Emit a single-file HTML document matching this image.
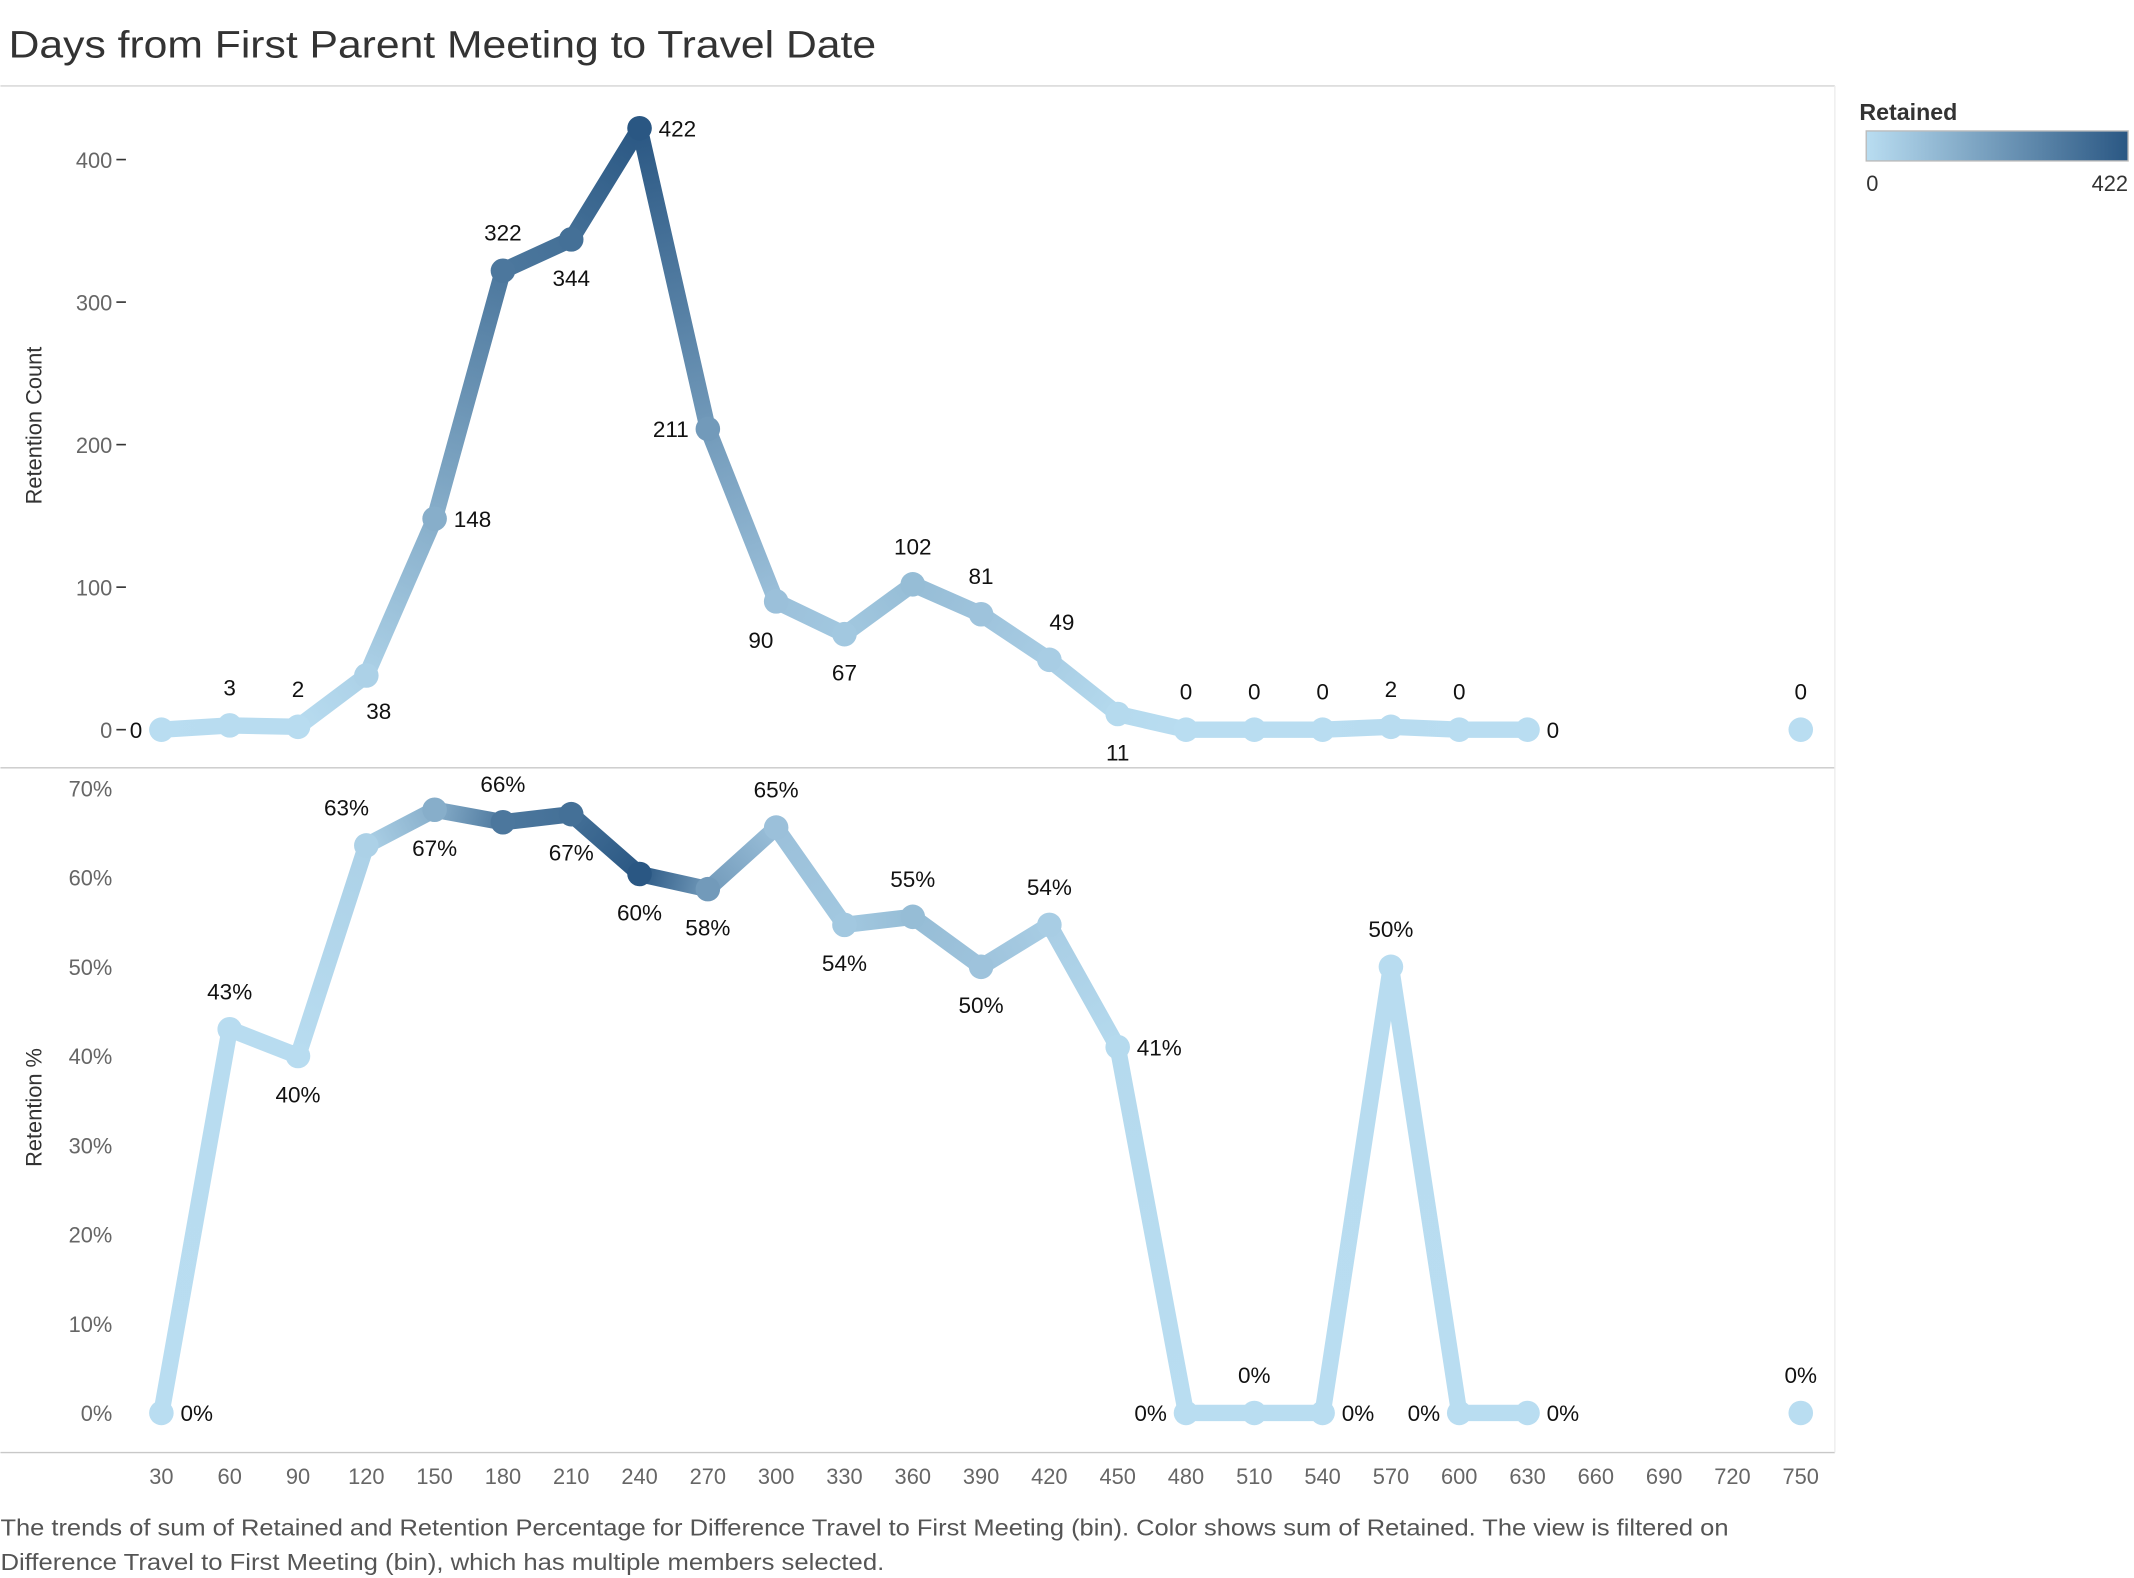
<!DOCTYPE html>
<html><head><meta charset="utf-8">
<style>
html,body{margin:0;padding:0;background:#fff;}
svg{display:block;font-family:"Liberation Sans Narrow","Liberation Sans",sans-serif;}
</style></head>
<body>
<svg id="chart" width="2134" height="1578" viewBox="0 0 1564 1157" xmlns="http://www.w3.org/2000/svg">
<defs>
<linearGradient id="legGrad" x1="0" x2="1" y1="0" y2="0"><stop offset="0" stop-color="#b9ddf1"/><stop offset="1" stop-color="#2a5783"/></linearGradient>
</defs>
<text x="6" y="42" font-size="28" fill="#333" textLength="636" lengthAdjust="spacingAndGlyphs">Days from First Parent Meeting to Travel Date</text>
<line x1="0" y1="63" x2="1345" y2="63" stroke="#d4d4d4" stroke-width="1"/>
<line x1="0" y1="563" x2="1345" y2="563" stroke="#c8c8c8" stroke-width="1"/>
<line x1="0" y1="1065" x2="1345" y2="1065" stroke="#c8c8c8" stroke-width="1"/>
<line x1="1345" y1="63" x2="1345" y2="1065" stroke="#ececec" stroke-width="1"/>
<text transform="translate(30,312) rotate(-90)" text-anchor="middle" font-size="16" fill="#333">Retention Count</text>
<text transform="translate(30,812) rotate(-90)" text-anchor="middle" font-size="16" fill="#333">Retention %</text>
<g id="legend">
<text x="1363" y="88" font-size="17" font-weight="bold" fill="#333">Retained</text>
<rect x="1368" y="96" width="192" height="22" fill="url(#legGrad)" stroke="#bbb"/>
<text x="1368" y="140" font-size="16" fill="#333">0</text>
<text x="1560" y="140" font-size="16" fill="#333" text-anchor="end">422</text>
</g>
<text font-size="17" fill="#555"><tspan x="0" y="1126" textLength="1267" lengthAdjust="spacingAndGlyphs">The trends of sum of Retained and Retention Percentage for Difference Travel to First Meeting (bin).  Color shows sum of Retained. The view is filtered on</tspan><tspan x="0" y="1151" textLength="648" lengthAdjust="spacingAndGlyphs">Difference Travel to First Meeting (bin), which has multiple members selected.</tspan></text>
</svg>
<script>
const bins = [30,60,90,120,150,180,210,240,270,300,330,360,390,420,450,480,510,540,570,600,630];
const retained = [0,3,2,38,148,322,344,422,211,90,67,102,81,49,11,0,0,0,2,0,0];
const retentionPct = [0,43,40,63.6,67.6,66.2,67.1,60.4,58.7,65.6,54.7,55.6,50,54.7,41,0,0,0,50,0,0];
const pctLabels = ["0%","43%","40%","63%","67%","66%","67%","60%","58%","65%","54%","55%","50%","54%","41%","0%","0%","0%","50%","0%","0%"];
const isoBin = [750];
const isoRetained = [0];
const isoPct = [0];
const xTicks = [30,60,90,120,150,180,210,240,270,300,330,360,390,420,450,480,510,540,570,600,630,660,690,720,750];
const countTicks = [0,100,200,300,400];
const pctTicks = [0,10,20,30,40,50,60,70];
const countLabelSide = ["l","a","a","br","r","a","b","r","l","bl","b","a","a","ar","b","a","a","a","a","a","r"];
const pctLabelSide = ["r","a","b","al","b","a","b","b","b","a","b","a","b","a","r","l","a","r","a","l","r"];

const NS="http://www.w3.org/2000/svg";
const svg=document.getElementById('chart');
const x=v=>118+(v-30)*(1320-118)/720;
const yC=v=>535-v*(535-117)/400;
const yP=v=>1036-v*(1036-578)/70;
const maxR=422;
function col(v){const t=Math.max(0,Math.min(1,v/maxR));const a=[185,221,241],b=[42,87,131];
return 'rgb('+a.map((c,i)=>Math.round(c+(b[i]-c)*t)).join(',')+')';}
function mk(tag,attrs,parent){const e=document.createElementNS(NS,tag);for(const k in attrs)e.setAttribute(k,attrs[k]);(parent||svg).appendChild(e);return e;}
const defs=svg.querySelector('defs');

const axG=mk('g',{});


countTicks.forEach(t=>{
  const l=mk('line',{x1:85,x2:92,y1:yC(t),y2:yC(t),stroke:'#333','stroke-width':1.2},axG);
  
  
  const tx=mk('text',{x:82,y:yC(t)+6,'text-anchor':'end','font-size':16,fill:'#666'},axG);
  
  
  tx.textContent=t;
});
pctTicks.forEach(t=>{
  const tx=mk('text',{x:82,y:yP(t)+6,'text-anchor':'end','font-size':16,fill:'#666'},axG);
  
  
  tx.textContent=t+'%';
});
xTicks.forEach(t=>{
  const tx=mk('text',{x:x(t),y:1088,'text-anchor':'middle','font-size':16,fill:'#666'},axG);
  
  
  tx.textContent=t;
});

function drawSeries(vals,yf,labels,sides,name){
  const g=mk('g',{});
  
  
  for(let i=0;i<vals.length-1;i++){
    const id=name+'g'+i;
    const gr=mk('linearGradient',{id:id,gradientUnits:'userSpaceOnUse',x1:x(bins[i]),y1:yf(vals[i]),x2:x(bins[i+1]),y2:yf(vals[i+1])},defs);
    mk('stop',{offset:0,'stop-color':col(retained[i])},gr);
    mk('stop',{offset:1,'stop-color':col(retained[i+1])},gr);
    const s=mk('line',{x1:x(bins[i]),y1:yf(vals[i]),x2:x(bins[i+1]),y2:yf(vals[i+1]),stroke:'url(#'+id+')','stroke-width':12,'stroke-linecap':'round'},g);
    
    
  }
  vals.forEach((v,i)=>{
    const c=mk('circle',{cx:x(bins[i]),cy:yf(v),r:9,fill:col(retained[i])},g);
    
    
    const px=x(bins[i]),py=yf(v),s=sides[i];
    let lx=px,ly=py,anc='middle';
    if(s==='a'){ly=py-22;}
    else if(s==='b'){ly=py+34;}
    else if(s==='r'){lx=px+14;ly=py+6;anc='start';}
    else if(s==='l'){lx=px-14;ly=py+6;anc='end';}
    else if(s==='br'){lx=px+0;ly=py+32;anc='start';}
    else if(s==='bl'){lx=px-2;ly=py+34;anc='end';}
    else if(s==='ar'){lx=px;ly=py-22;anc='start';}
    else if(s==='al'){lx=px+2;ly=py-22;anc='end';}
    const t=mk('text',{x:lx,y:ly,'text-anchor':anc,'font-size':16.5,fill:'#111'},g);
    
    
    t.textContent=labels[i];
  });
}
drawSeries(retained,yC,retained.map(String),countLabelSide,'count');
drawSeries(retentionPct,yP,pctLabels,pctLabelSide,'percent');

isoBin.forEach((b,i)=>{
  const c1=mk('circle',{cx:x(b),cy:yC(isoRetained[i]),r:9,fill:col(isoRetained[i])});
  
  
  const t1=mk('text',{x:x(b),y:yC(isoRetained[i])-22,'text-anchor':'middle','font-size':16.5,fill:'#111'});
  
  
  t1.textContent=isoRetained[i];
  const c2=mk('circle',{cx:x(b),cy:yP(isoPct[i]),r:9,fill:col(isoRetained[i])});
  
  
  const t2=mk('text',{x:x(b),y:yP(isoPct[i])-22,'text-anchor':'middle','font-size':16.5,fill:'#111'});
  
  
  t2.textContent=isoPct[i]+'%';
});
</script>
</body></html>
